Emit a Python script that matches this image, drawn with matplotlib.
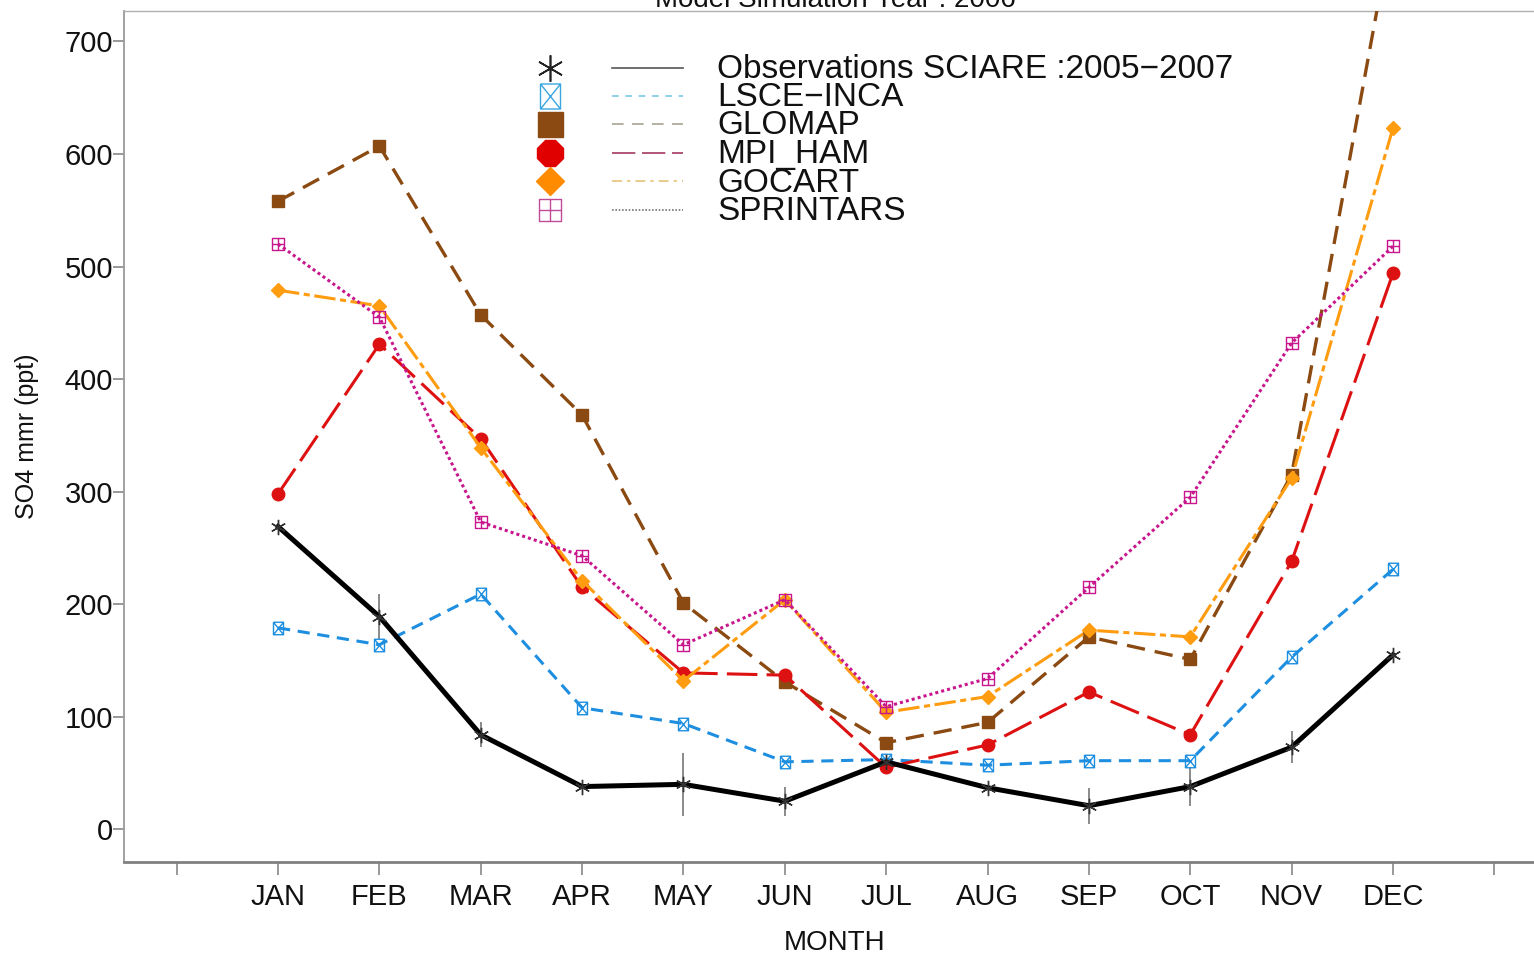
import numpy as np
import matplotlib
matplotlib.use("Agg")
import matplotlib.pyplot as plt
from matplotlib.path import Path

plt.rcParams['font.family'] = ['Liberation Sans', 'DejaVu Sans']

# ---- data -------------------------------------------------------------
months = ["JAN", "FEB", "MAR", "APR", "MAY", "JUN",
          "JUL", "AUG", "SEP", "OCT", "NOV", "DEC"]
month_pos = list(range(1, 13))

obs_sciare = [269, 189, 84, 38, 40, 25, 60, 37, 21, 38, 73, 155]
obs_sciare_err = [0, 20, 11, 0, 28, 13, 0, 0, 16, 17, 14, 0]
lsce_inca = [179, 164, 209, 108, 94, 60, 62, 57, 61, 61, 153, 231]
glomap = [558, 607, 457, 368, 201, 131, 77, 95, 171, 151, 315, 805]
mpi_ham = [298, 431, 347, 215, 139, 137, 55, 75, 122, 84, 238, 494]
gocart = [479, 465, 339, 221, 132, 204, 104, 118, 177, 171, 312, 623]
sprintars = [520, 455, 273, 243, 164, 204, 109, 134, 215, 295, 432, 518]

series_names = ["Observations SCIARE :2005\u22122007", "LSCE\u2212INCA", "GLOMAP",
                "MPI_HAM", "GOCART", "SPRINTARS"]

# ---- custom marker shapes ---------------------------------------------
# hourglass: top and bottom bars joined by crossing diagonals, with side posts
hourglass = Path(
    [(-0.8, 1), (0.8, 1), (-0.8, -1), (0.8, -1), (-0.8, 1),
     (-0.8, 1), (-0.8, -1), (0.8, 1), (0.8, -1)],
    [Path.MOVETO, Path.LINETO, Path.LINETO, Path.LINETO, Path.LINETO,
     Path.MOVETO, Path.LINETO, Path.MOVETO, Path.LINETO])
# square with a cross inside
boxplus = Path(
    [(-1, -1), (1, -1), (1, 1), (-1, 1), (-1, -1),
     (0, -1), (0, 1), (-1, 0), (1, 0)],
    [Path.MOVETO, Path.LINETO, Path.LINETO, Path.LINETO, Path.CLOSEPOLY,
     Path.MOVETO, Path.LINETO, Path.MOVETO, Path.LINETO])
asterisk = (6, 2, 0)

c_obs = "black"
c_lsce = "#1E8FE0"
c_glomap = "#8B4A12"
c_mpi = "#DD1111"
c_gocart = "#FF9C10"
c_spr = "#C8168C"

fig = plt.figure(figsize=(15.34, 9.57), dpi=100)
W, H = 1534.0, 957.0
ax = fig.add_axes([124 / W, 1 - 862 / H, 1421 / W, 851 / H])
ax.set_xlim(-0.52, 13.5)
ax.set_ylim(-29, 727)

# ---- model lines ------------------------------------------------------
ax.plot(month_pos, lsce_inca, color=c_lsce, lw=2.2, dashes=(4, 2.5),
        marker=hourglass, ms=9, mfc="none", mec=c_lsce, mew=1.0, zorder=3)
ax.plot(month_pos, glomap, color=c_glomap, lw=2.4, dashes=(5.5, 3),
        marker="s", ms=9, mfc=c_glomap, mec=c_glomap, zorder=3)
ax.plot(month_pos, mpi_ham, color=c_mpi, lw=2.2, dashes=(10, 3),
        marker="o", ms=9, mfc=c_mpi, mec=c_mpi, zorder=3)
ax.plot(month_pos, gocart, color=c_gocart, lw=2.2, dashes=(7, 1.5, 2, 1.5),
        marker="D", ms=7, mfc=c_gocart, mec=c_gocart, zorder=3)
ax.plot(month_pos, sprintars, color=c_spr, lw=2.2, dashes=(1, 1),
        marker=boxplus, ms=8, mfc="none", mec=c_spr, mew=1.0, zorder=3)

# ---- observations with spread ----------------------------------------
ax.errorbar(month_pos, obs_sciare, yerr=obs_sciare_err, fmt="none",
            ecolor="#8a8a8a", elinewidth=1.4, capsize=0, zorder=2)
ax.plot(month_pos, obs_sciare, color=c_obs, lw=3.6, marker=asterisk,
        ms=11, mec="#333333", mew=1.0, zorder=4)

# ---- axes styling -----------------------------------------------------
ax.set_xticks(range(0, 14))
ax.set_xticklabels([""] + months + [""], fontsize=21)
ax.set_yticks(range(0, 701, 100))
ax.tick_params(axis="x", direction="out", length=9, width=1.2,
               color="#888888", pad=6, labelcolor="#111111")
ax.tick_params(axis="y", direction="out", length=8, width=1.2,
               color="#888888", pad=0, labelsize=21, labelcolor="#111111")
ax.spines["left"].set_color("#9a9a9a")
ax.spines["left"].set_linewidth(1.3)
ax.spines["top"].set_color("#b0b0b0")
ax.spines["top"].set_linewidth(1.0)
ax.spines["bottom"].set_color("#808080")
ax.spines["bottom"].set_linewidth(2.0)
ax.spines["right"].set_visible(False)

fig.text(27 / W, 1 - 436 / H, "SO4 mmr (ppt)", rotation=90,
         ha="center", va="center", fontsize=18, color="#111111")
fig.text(835 / W, 1 - 943 / H, "MONTH", ha="center", va="center",
         fontsize=20, color="#111111")
fig.text(835 / W, 1 - 7 / H, "Model Simulation Year : 2006",
         ha="center", va="baseline", fontsize=20, color="#111111")

# ---- legend (marker, line sample, label) ------------------------------
lax = fig.add_axes([0, 0, 1, 1])
lax.set_xlim(0, W)
lax.set_ylim(H, 0)
lax.axis("off")

legend_rows = [
    dict(marker=asterisk, ms=19, mfc="black", mec="#222222", mew=1.2,
         lc="#555555", dashes=None),
    dict(marker=hourglass, ms=18, mfc="none", mec="#3AA6E0", mew=1.0,
         lc="#7CC6E6", dashes=(4, 4)),
    dict(marker="s", ms=18, mfc=c_glomap, mec=c_glomap, mew=1.0,
         lc="#A8A494", dashes=(7, 5)),
    dict(marker="8", ms=20, mfc="#E00000", mec="#E00000", mew=1.0,
         lc="#A23A62", dashes=(14, 4)),
    dict(marker="D", ms=14, mfc="#FF8C00", mec="#FF8C00", mew=1.0,
         lc="#E6C27A", dashes=(6, 3, 2, 3)),
    dict(marker=boxplus, ms=16, mfc="none", mec="#C04A98", mew=1.0,
         lc="#777777", dashes=(1, 1)),
]
row_y = [68, 96, 124, 153, 181, 210]
for name, yy, st in zip(series_names, row_y, legend_rows):
    lax.plot([550], [yy], linestyle="none", marker=st["marker"], ms=st["ms"],
             mfc=st["mfc"], mec=st["mec"], mew=st["mew"])
    ln, = lax.plot([612, 683], [yy, yy], color=st["lc"], lw=1.2)
    if st["dashes"] is not None:
        ln.set_dashes(st["dashes"])
    lax.text(717, yy + 2, name, ha="left", va="center", fontsize=24,
             color="#111111")

fig.savefig("out.png", dpi=100)
